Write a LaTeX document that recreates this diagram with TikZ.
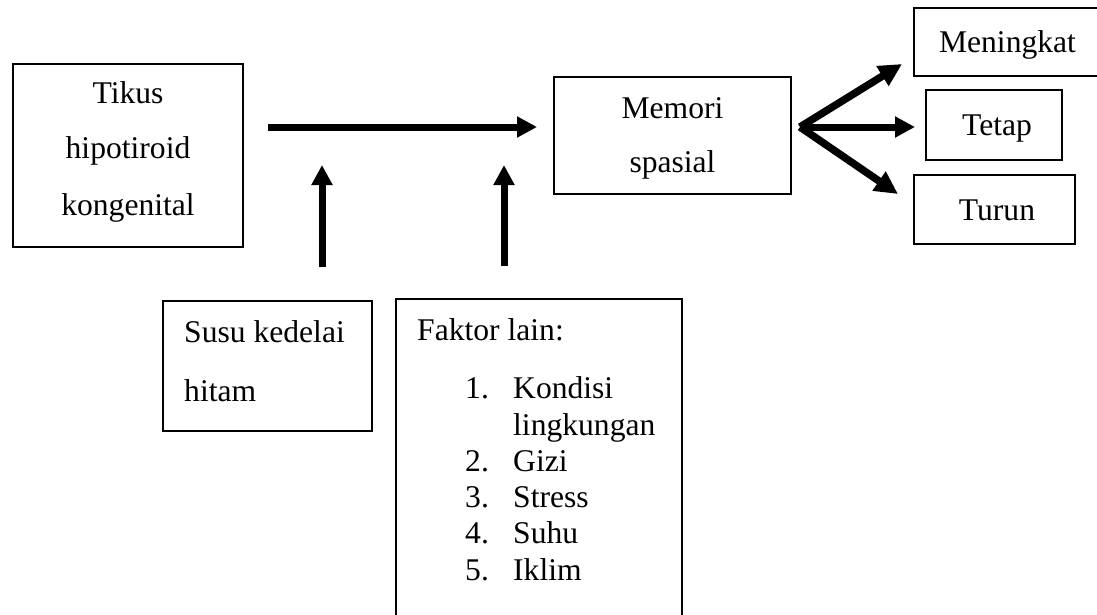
\documentclass[tikz,border=0pt]{standalone}
\usepackage{fontspec}
\setmainfont{Liberation Serif}
\usetikzlibrary{arrows.meta}
\begin{document}
\begin{tikzpicture}[x=1pt,y=-1pt,
  box/.style={draw, line width=1.5pt, inner sep=0pt, rectangle},
  txt/.style={inner sep=0pt, font=\fontsize{31.6}{38}\selectfont},
  thick arrow/.style={line width=7pt, -{Triangle[length=20pt,width=20pt]}},
  fan arrow/.style={line width=7.5pt, -{Triangle[length=23pt,width=22pt]}}]
\useasboundingbox (0,0) rectangle (1097,614);
% boxes
\node[box, minimum width=230pt, minimum height=183pt] (tikus) at (128,155.5) {};
\node[box, minimum width=237pt, minimum height=117pt] (memori) at (672.5,135.5) {};
\node[box, minimum width=187pt, minimum height=68pt] (meningkat) at (1007.5,42) {};
\node[box, minimum width=136pt, minimum height=70pt] (tetap) at (994,125) {};
\node[box, minimum width=161pt, minimum height=69pt] (turun) at (994.5,209.5) {};
\node[box, minimum width=209pt, minimum height=130pt] (susu) at (267.5,366) {};
\node[box, minimum width=286pt, minimum height=341pt] (faktor) at (539,469.5) {};
% texts
\node[txt, anchor=base] (t1) at (128,103) {Tikus};
\node[txt, anchor=base] (t2) at (128,158) {hipotiroid};
\node[txt, anchor=base] (t3) at (128,215) {kongenital};
\node[txt, anchor=base] (m1) at (672.5,118) {Memori};
\node[txt, anchor=base] (m2) at (672.5,172) {spasial};
\node[txt, anchor=base] (r1) at (1007.5,52.5) {Meningkat};
\node[txt, anchor=base] (r2) at (997,135.5) {Tetap};
\node[txt, anchor=base] (r3) at (997,220) {Turun};
\node[txt, anchor=base west] (s1) at (184,342) {Susu kedelai};
\node[txt, anchor=base west] (s2) at (184,401) {hitam};
\node[txt, anchor=base west] (f0) at (417,340) {Faktor lain:};
\node[txt, anchor=base west] (n1) at (465,398) {1.};
\node[txt, anchor=base west] (i1) at (513,398) {Kondisi};
\node[txt, anchor=base west] (i1b) at (513,435) {lingkungan};
\node[txt, anchor=base west] (n2) at (465,471) {2.};
\node[txt, anchor=base west] (i2) at (513,471) {Gizi};
\node[txt, anchor=base west] (n3) at (465,507) {3.};
\node[txt, anchor=base west] (i3) at (513,507) {Stress};
\node[txt, anchor=base west] (n4) at (465,543) {4.};
\node[txt, anchor=base west] (i4) at (513,543) {Suhu};
\node[txt, anchor=base west] (n5) at (465,580) {5.};
\node[txt, anchor=base west] (i5) at (513,580) {Iklim};
% connector points
\coordinate (hs) at (268,127);
\coordinate (he) at (537,127);
\coordinate (v1s) at (322,267);
\coordinate (v1e) at (322,165);
\coordinate (v2s) at (504,266);
\coordinate (v2e) at (504,165);
\coordinate (fan) at (800,127);
\coordinate (fu) at (902,64);
\coordinate (fm) at (915,127);
\coordinate (fd) at (898,194);
% arrows
\draw[thick arrow] (hs) -- (he);
\draw[thick arrow] (v1s) -- (v1e);
\draw[thick arrow] (v2s) -- (v2e);
\draw[fan arrow] (fan) -- (fu);
\draw[thick arrow] (fan) -- (fm);
\draw[fan arrow] (fan) -- (fd);
\end{tikzpicture}
\end{document}
